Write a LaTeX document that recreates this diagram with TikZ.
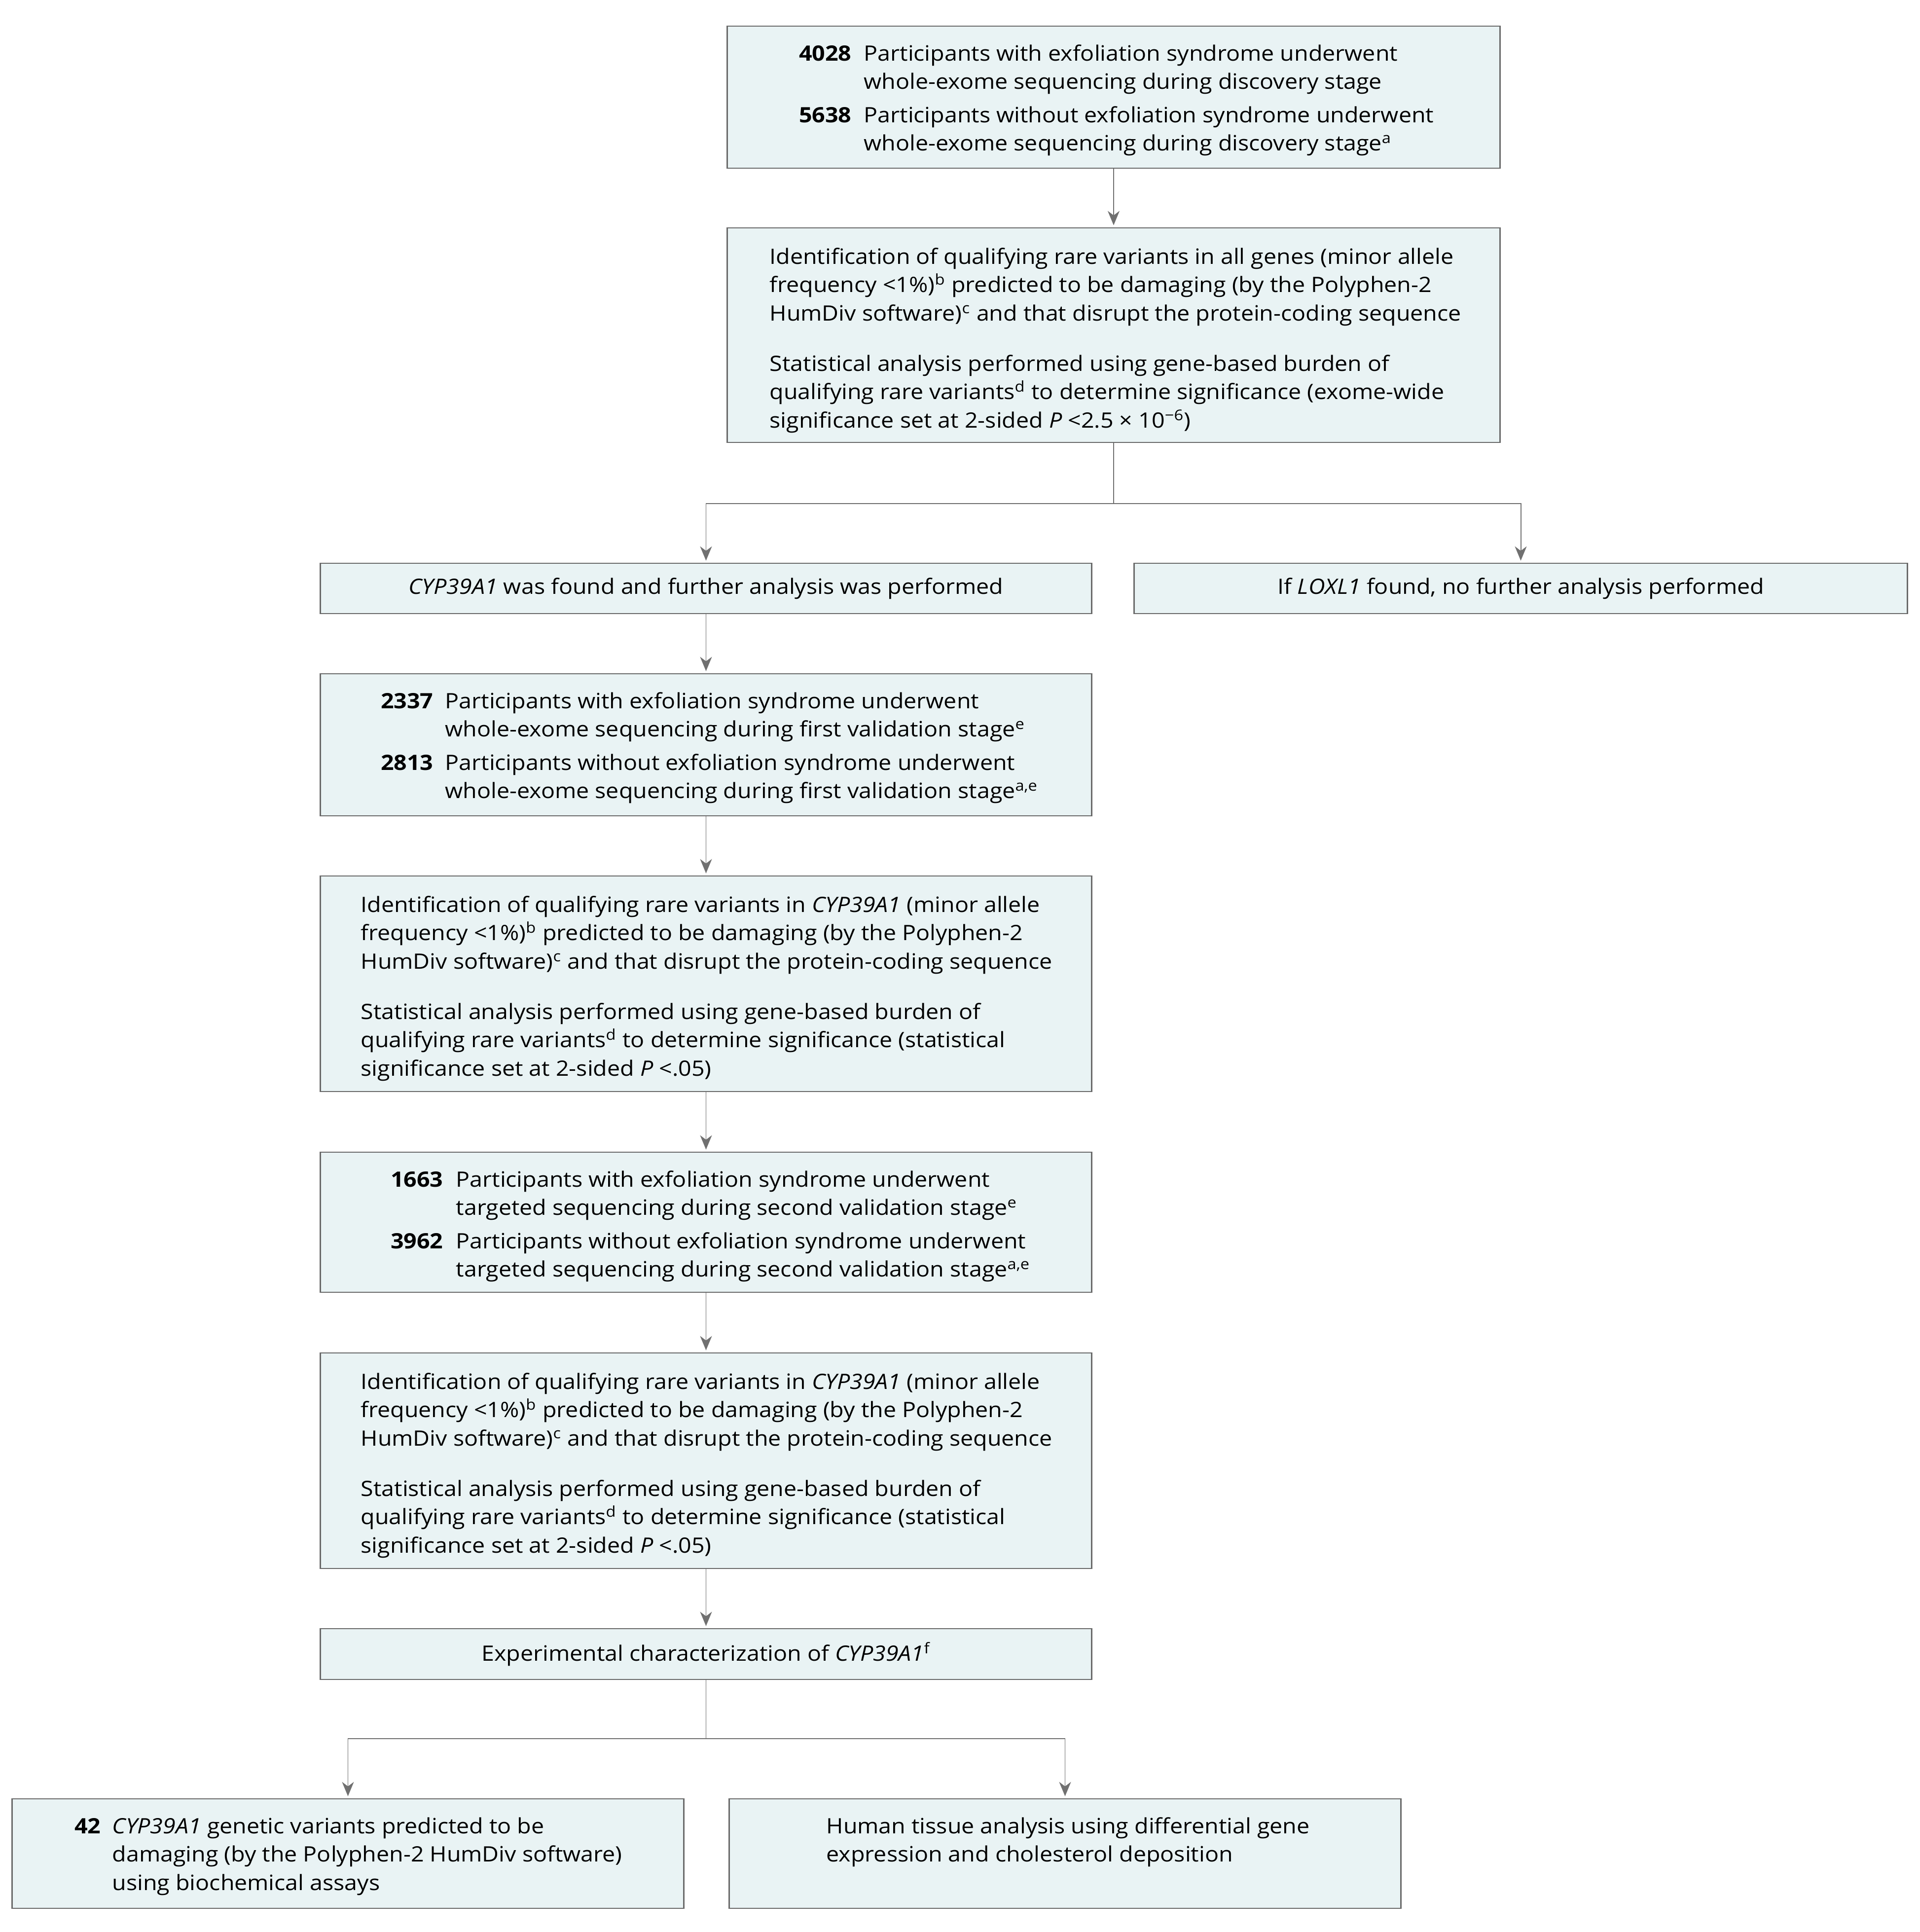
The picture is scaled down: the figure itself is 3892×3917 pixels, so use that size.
\documentclass[tikz,border=0pt]{standalone}
\usepackage{fontspec}
\setmainfont{Open Sans}[FakeStretch=1.085]
\usetikzlibrary{arrows.meta}
\definecolor{boxfill}{HTML}{E9F3F4}
\definecolor{boxline}{HTML}{6A6A6A}
\definecolor{conn}{HTML}{707070}
\newcommand\fs{\fontsize{12.2pt}{16.4pt}\selectfont}
\newcommand\tl[1]{\begin{tabular}[t]{@{}l@{}}#1\end{tabular}}
\newcommand\sps[1]{\textsuperscript{#1}}
\begin{document}
\begin{tikzpicture}[x=0.01cm,y=-0.01cm,
  box/.style={draw=boxline, fill=boxfill, line width=0.7pt, inner sep=0pt, rectangle},
  txt/.style={inner sep=0pt, anchor=base west, font=\fs},
  num/.style={inner sep=0pt, anchor=base east, font=\fs\bfseries},
  ctxt/.style={inner sep=0pt, font=\fs},
  line/.style={draw=conn, line width=0.55pt},
  arr/.style={line, -{Stealth[length=0.29cm,width=0.24cm,inset=0.09cm]}, shorten >=0.04cm}]
\useasboundingbox (0,0) rectangle (3892,3917);

% boxes
\node[box, minimum width=15.66cm, minimum height=2.88cm] (b1) at (2258,197) {};
\node[box, minimum width=15.66cm, minimum height=4.35cm] (b2) at (2258,679.5) {};
\node[box, minimum width=15.63cm, minimum height=1.02cm] (b3) at (1431.5,1193) {};
\node[box, minimum width=15.67cm, minimum height=1.02cm] (b4) at (3083.5,1193) {};
\node[box, minimum width=15.63cm, minimum height=2.88cm] (b5) at (1431.5,1510) {};
\node[box, minimum width=15.63cm, minimum height=4.37cm] (b6) at (1431.5,1994.5) {};
\node[box, minimum width=15.63cm, minimum height=2.84cm] (b7) at (1431.5,2478) {};
\node[box, minimum width=15.63cm, minimum height=4.37cm] (b8) at (1431.5,2961.5) {};
\node[box, minimum width=15.63cm, minimum height=1.03cm] (b9) at (1431.5,3353.5) {};
\node[box, minimum width=13.61cm, minimum height=2.22cm] (b10) at (705.5,3758) {};
\node[box, minimum width=13.61cm, minimum height=2.22cm] (b11) at (2159.5,3758) {};

% box 1
\node[num] (n1a) at (1727,123) {4028};
\node[txt] (t1a) at (1751,123) {\fs\tl{Participants with exfoliation syndrome underwent\\whole-exome sequencing during discovery stage}};
\node[num] (n1b) at (1727,248) {5638};
\node[txt] (t1b) at (1751,248) {\fs\tl{Participants without exfoliation syndrome underwent\\whole-exome sequencing during discovery stage\sps{a}}};

% box 2
\node[txt] (t2a) at (1560,535) {\fs\tl{Identification of qualifying rare variants in all genes (minor allele\\frequency <1\%)\sps{b} predicted to be damaging (by the Polyphen-2\\HumDiv software)\sps{c} and that disrupt the protein-coding sequence}};
\node[txt] (t2b) at (1560,752) {\fs\tl{Statistical analysis performed using gene-based burden of\\qualifying rare variants\sps{d} to determine significance (exome-wide\\significance set at 2-sided \textit{P} <2.5 × 10\sps{−6})}};

% box 3, 4
\node[ctxt] (t3) at (b3) {\textit{CYP39A1} was found and further analysis was performed};
\node[ctxt] (t4) at (b4) {If \textit{LOXL1} found, no further analysis performed};

% box 5
\node[num] (n5a) at (879,1436) {2337};
\node[txt] (t5a) at (902,1436) {\fs\tl{Participants with exfoliation syndrome underwent\\whole-exome sequencing during first validation stage\sps{e}}};
\node[num] (n5b) at (879,1561) {2813};
\node[txt] (t5b) at (902,1561) {\fs\tl{Participants without exfoliation syndrome underwent\\whole-exome sequencing during first validation stage\sps{a,e}}};

% box 6
\node[txt] (t6a) at (731,1849) {\fs\tl{Identification of qualifying rare variants in \textit{CYP39A1} (minor allele\\frequency <1\%)\sps{b} predicted to be damaging (by the Polyphen-2\\HumDiv software)\sps{c} and that disrupt the protein-coding sequence}};
\node[txt] (t6b) at (731,2066) {\fs\tl{Statistical analysis performed using gene-based burden of\\qualifying rare variants\sps{d} to determine significance (statistical\\significance set at 2-sided \textit{P} <.05)}};

% box 7
\node[num] (n7a) at (899,2406) {1663};
\node[txt] (t7a) at (924,2406) {\fs\tl{Participants with exfoliation syndrome underwent\\targeted sequencing during second validation stage\sps{e}}};
\node[num] (n7b) at (899,2531) {3962};
\node[txt] (t7b) at (924,2531) {\fs\tl{Participants without exfoliation syndrome underwent\\targeted sequencing during second validation stage\sps{a,e}}};

% box 8
\node[txt] (t8a) at (731,2816) {\fs\tl{Identification of qualifying rare variants in \textit{CYP39A1} (minor allele\\frequency <1\%)\sps{b} predicted to be damaging (by the Polyphen-2\\HumDiv software)\sps{c} and that disrupt the protein-coding sequence}};
\node[txt] (t8b) at (731,3033) {\fs\tl{Statistical analysis performed using gene-based burden of\\qualifying rare variants\sps{d} to determine significance (statistical\\significance set at 2-sided \textit{P} <.05)}};

% box 9
\node[ctxt] (t9) at (b9) {Experimental characterization of \textit{CYP39A1}\sps{f}};

% box 10, 11
\node[num] (n10) at (205,3717) {42};
\node[txt] (t10) at (227,3717) {\fs\tl{\textit{CYP39A1} genetic variants predicted to be\\damaging (by the Polyphen-2 HumDiv software)\\using biochemical assays}};
\node[txt] (t11) at (1675,3717) {\fs\tl{Human tissue analysis using differential gene\\expression and cholesterol deposition}};

% connectors
\coordinate (j1) at (2258,1021);
\coordinate (j2) at (1431.5,3525);
\draw[arr] (b1.south) -- (b2.north);
\draw[line] (b2.south) -- (j1);
\draw[arr] (j1) -| (b3.north);
\draw[arr] (j1) -| (b4.north);
\draw[arr] (b3.south) -- (b5.north);
\draw[arr] (b5.south) -- (b6.north);
\draw[arr] (b6.south) -- (b7.north);
\draw[arr] (b7.south) -- (b8.north);
\draw[arr] (b8.south) -- (b9.north);
\draw[line] (b9.south) -- (j2);
\draw[arr] (j2) -| (b10.north);
\draw[arr] (j2) -| (b11.north);
\end{tikzpicture}
\end{document}
